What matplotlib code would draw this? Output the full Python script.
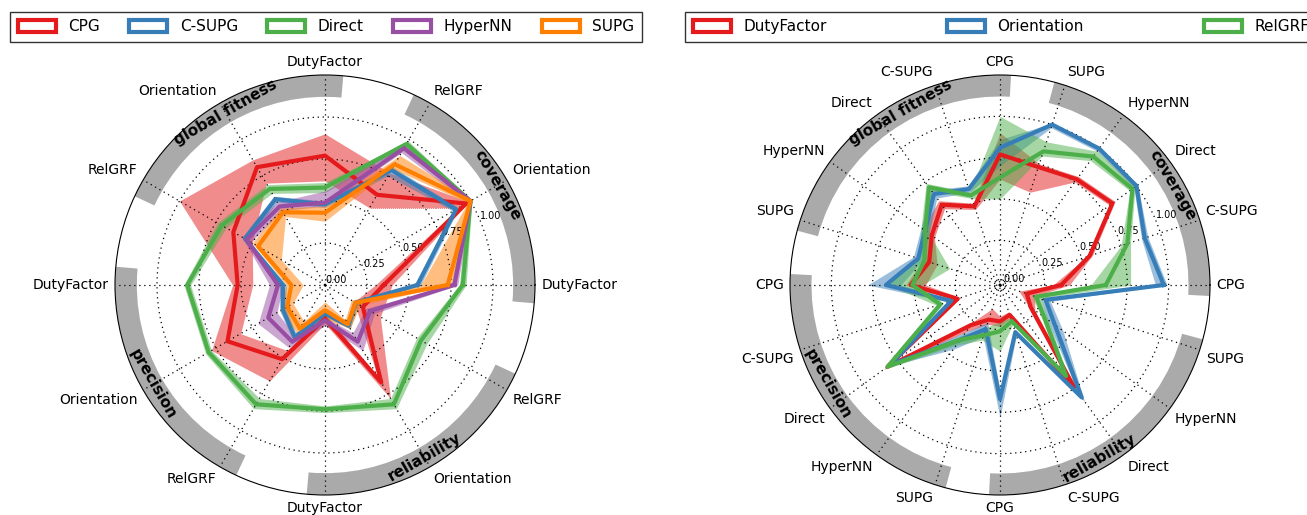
import numpy as np
import matplotlib.pyplot as plt
from matplotlib.patches import Patch

metrics = ['coverage', 'global fitness', 'precision', 'reliability']
features = ['DutyFactor', 'Orientation', 'RelGRF']
controllers = ['CPG', 'C-SUPG', 'Direct', 'HyperNN', 'SUPG']

controller_colors = ['#e41a1c', '#377eb8', '#4daf4a', '#984ea3', '#ff7f00']
feature_colors = ['#e41a1c', '#377eb8', '#4daf4a']

# rows: DutyFactor, Orientation, RelGRF / columns: CPG, C-SUPG, Direct, HyperNN, SUPG
coverage_mean = [[0.35, 0.55, 0.82, 0.77, 0.73],
                 [0.97, 0.90, 1.00, 1.00, 1.00],
                 [0.62, 0.79, 0.97, 0.94, 0.83]]
coverage_lo = [[0.30, 0.53, 0.80, 0.75, 0.57],
               [0.92, 0.88, 0.98, 0.98, 0.98],
               [0.53, 0.75, 0.95, 0.91, 0.80]]
coverage_hi = [[0.40, 0.57, 0.84, 0.79, 0.75],
               [0.99, 0.92, 1.01, 1.01, 1.01],
               [0.77, 0.81, 0.99, 0.98, 0.89]]

fitness_mean = [[0.77, 0.48, 0.58, 0.49, 0.43],
                [0.81, 0.59, 0.66, 0.54, 0.50],
                [0.63, 0.55, 0.71, 0.54, 0.46]]
fitness_lo = [[0.62, 0.46, 0.55, 0.47, 0.38],
              [0.70, 0.57, 0.63, 0.51, 0.47],
              [0.50, 0.53, 0.68, 0.51, 0.30]]
fitness_hi = [[0.90, 0.50, 0.61, 0.56, 0.47],
              [0.86, 0.61, 0.69, 0.57, 0.53],
              [1.00, 0.57, 0.74, 0.57, 0.50]]

precision_mean = [[0.52, 0.25, 0.82, 0.28, 0.20],
                  [0.67, 0.29, 0.80, 0.39, 0.26],
                  [0.51, 0.36, 0.82, 0.39, 0.30]]
precision_lo = [[0.43, 0.23, 0.80, 0.25, 0.13],
                [0.58, 0.27, 0.78, 0.33, 0.22],
                [0.45, 0.34, 0.78, 0.35, 0.25]]
precision_hi = [[0.55, 0.27, 0.84, 0.33, 0.23],
                [0.78, 0.31, 0.82, 0.46, 0.31],
                [0.66, 0.38, 0.85, 0.43, 0.33]]

reliability_mean = [[0.20, 0.17, 0.74, 0.21, 0.15],
                    [0.67, 0.28, 0.82, 0.39, 0.27],
                    [0.26, 0.21, 0.66, 0.31, 0.21]]
reliability_lo = [[0.17, 0.15, 0.72, 0.19, 0.10],
                  [0.62, 0.26, 0.78, 0.33, 0.24],
                  [0.20, 0.19, 0.63, 0.28, 0.18]]
reliability_hi = [[0.23, 0.19, 0.76, 0.24, 0.20],
                  [0.78, 0.30, 0.85, 0.45, 0.30],
                  [0.38, 0.23, 0.70, 0.34, 0.24]]

mean = np.array([coverage_mean, fitness_mean, precision_mean, reliability_mean])
lo = np.array([coverage_lo, fitness_lo, precision_lo, reliability_lo])
hi = np.array([coverage_hi, fitness_hi, precision_hi, reliability_hi])


def radar(ax, ticklabels, per_group, series, lows, highs, colors, half, rmin):
    n = len(ticklabels)
    theta = np.arange(n) * 2 * np.pi / n
    tc = np.append(theta, theta[0])
    for v, l, h, col in zip(series, lows, highs, colors):
        ax.fill_between(tc, np.append(l, l[0]), np.append(h, h[0]),
                        color=col, alpha=0.5, lw=0)
        ax.plot(tc, np.append(v, v[0]), color=col, lw=3)
    step = 2 * np.pi / n
    for k, name in enumerate(metrics):
        c = (k * per_group + (per_group - 1) / 2) * step
        ax.bar(c, 0.13, width=2 * np.deg2rad(half), bottom=1.12,
               color='#aaaaaa', lw=0, zorder=0.5)
        a = 30 + 90 * k
        rot = (a - 90 + 90) % 180 - 90
        ax.text(np.deg2rad(a), 1.185, name, rotation=rot, ha='center',
                va='center', fontsize=11, fontweight='bold',
                rotation_mode='anchor')
    ax.set_xticks(theta)
    ax.set_xticklabels([])
    # labels outside the circle, aligned by their side
    for t, lab in zip(theta, ticklabels):
        cs, sn = np.cos(t), np.sin(t)
        ha = 'left' if cs > 0.01 else ('right' if cs < -0.01 else 'center')
        va = 'bottom' if sn > 0.01 else ('top' if sn < -0.01 else 'center')
        ax.text(0.5 + 0.515 * cs, 0.5 + 0.515 * sn, lab, transform=ax.transAxes,
                ha=ha, va=va, fontsize=10)
    ax.set_yticks([0, 0.25, 0.5, 0.75, 1.0])
    ax.set_yticklabels(['0.00', '0.25', '0.50', '0.75', '1.00'], fontsize=7)
    ax.grid(True, color='black', linestyle=(0, (1, 3)), lw=0.9)
    ax.set_ylim(rmin, 1.25)


fig = plt.figure(figsize=(13.07, 5.15), dpi=100)
w, h = 420 / 1307, 420 / 515

ax1 = fig.add_axes([115 / 1307, 20 / 515, w, h], projection='polar')
left_ticks = [f for m in metrics for f in features]
radar(ax1, left_ticks, 3,
      [mean[:, :, c].ravel() for c in range(5)],
      [lo[:, :, c].ravel() for c in range(5)],
      [hi[:, :, c].ravel() for c in range(5)],
      controller_colors, 35, 0)

ax2 = fig.add_axes([790 / 1307, 20 / 515, w, h], projection='polar')
right_ticks = [c for m in metrics for c in controllers]
radar(ax2, right_ticks, 5,
      [mean[:, f, :].ravel() for f in range(3)],
      [lo[:, f, :].ravel() for f in range(3)],
      [hi[:, f, :].ravel() for f in range(3)],
      feature_colors, 39, -0.02)

leg_kw = dict(loc='lower left', mode='expand', borderaxespad=0, fontsize=11,
              fancybox=False, edgecolor='black', handlelength=2.5,
              handleheight=0.8, borderpad=0.5, handletextpad=0.8)
h1 = [Patch(facecolor='white', edgecolor=c, lw=3) for c in controller_colors]
l1 = fig.legend(h1, controllers, ncol=5,
                bbox_to_anchor=(10 / 1307, 473 / 515, 632 / 1307, 30 / 515),
                **leg_kw)
l1.get_frame().set_linewidth(1)
h2 = [Patch(facecolor='white', edgecolor=c, lw=3) for c in feature_colors]
l2 = fig.legend(h2, features, ncol=3,
                bbox_to_anchor=(685 / 1307, 473 / 515, 632 / 1307, 30 / 515),
                **leg_kw)
l2.get_frame().set_linewidth(1)

fig.savefig('out.png', dpi=100)
